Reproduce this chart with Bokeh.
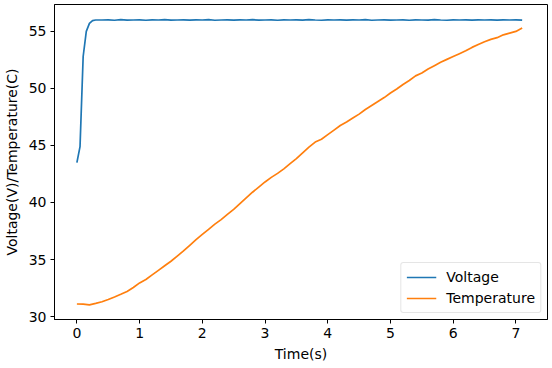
from bokeh.plotting import figure
from bokeh.models import Range1d, FixedTicker, Legend, LegendItem
from bokeh.embed import file_html
from bokeh.resources import INLINE

# ---- data ----
temp_time = [round(0.1 * i, 1) for i in range(72)]
temperature = [
    31.10, 31.08, 31.02, 31.15, 31.30, 31.50, 31.72, 31.95, 32.20, 32.55,
    32.95, 33.25, 33.65, 34.05, 34.45, 34.85, 35.30, 35.75, 36.25, 36.75,
    37.20, 37.65, 38.10, 38.50, 38.95, 39.40, 39.90, 40.40, 40.90, 41.35,
    41.80, 42.20, 42.55, 42.95, 43.40, 43.85, 44.35, 44.85, 45.30, 45.55,
    45.95, 46.35, 46.75, 47.05, 47.40, 47.75, 48.15, 48.50, 48.85, 49.20,
    49.60, 49.95, 50.35, 50.70, 51.10, 51.35, 51.70, 52.00, 52.30, 52.55,
    52.80, 53.05, 53.30, 53.60, 53.85, 54.10, 54.30, 54.45, 54.70, 54.85,
    55.00, 55.30,
]
volt_rise_time = [0.0, 0.05, 0.1, 0.15, 0.2, 0.25, 0.3]
volt_rise = [43.5, 44.9, 52.8, 55.0, 55.7, 55.95, 56.00]
volt_plateau_time = [round(0.1 * i, 1) for i in range(4, 72)]
volt_plateau = [
    56.00, 56.02, 55.98, 56.03, 55.99, 56.00, 56.02, 55.98, 56.01, 56.00,
    56.03, 55.99, 56.00, 56.02, 55.99, 56.01, 56.00, 56.03, 55.98, 56.00,
    56.02, 55.99, 56.01, 56.00, 56.03, 55.99, 56.00, 56.02, 55.98, 56.01,
    56.00, 56.02, 55.99, 56.03, 56.00, 55.98, 56.01, 56.00, 56.02, 55.99,
    56.01, 56.00, 56.03, 55.98, 56.00, 56.02, 55.99, 56.00, 56.01, 55.98,
    56.02, 56.00, 55.99, 56.03, 56.00, 55.98, 56.01, 56.00, 56.02, 55.99,
    56.01, 56.00, 56.02, 55.99, 56.01, 56.00, 56.02, 55.99,
]
volt_time = volt_rise_time + volt_plateau_time
voltage = volt_rise + volt_plateau
x_ticks = [0, 1, 2, 3, 4, 5, 6, 7]
y_ticks = [30, 35, 40, 45, 50, 55]
series_names = ["Voltage", "Temperature"]
colors = ["#1f77b4", "#ff7f0e"]

FONT = "DejaVu Sans"
FS = "14px"

p = figure(width=549, height=364, output_backend="svg", toolbar_location=None,
           x_range=Range1d(-0.357, 7.504), y_range=Range1d(29.74, 57.36),
           min_border_left=51, min_border_right=2, min_border_top=4, min_border_bottom=44)

p.background_fill_color = "white"
p.border_fill_color = "white"
p.outline_line_color = "black"
p.outline_line_width = 1
p.outline_line_alpha = 1
p.grid.visible = False

r1 = p.line(volt_time, voltage, line_color=colors[0], line_width=1.7)
r2 = p.line(temp_time, temperature, line_color=colors[1], line_width=1.7)

for ax, ticks in ((p.xaxis[0], x_ticks), (p.yaxis[0], y_ticks)):
    ax.ticker = FixedTicker(ticks=ticks)
    ax.minor_tick_line_color = None
    ax.major_tick_in = 0
    ax.major_tick_out = 4
    ax.major_tick_line_color = "black"
    ax.axis_line_color = "black"
    ax.major_label_text_font = FONT
    ax.major_label_text_font_size = FS
    ax.major_label_text_color = "black"
    ax.axis_label_text_font = FONT
    ax.axis_label_text_font_size = FS
    ax.axis_label_text_font_style = "normal"
    ax.axis_label_text_color = "black"
    ax.major_label_standoff = 4

p.xaxis.axis_label = "Time(s)"
p.yaxis.axis_label = "Voltage(V)/Temperature(C)"
p.xaxis.axis_label_standoff = 5
p.yaxis.axis_label_standoff = 6

legend = Legend(items=[LegendItem(label=series_names[0], renderers=[r1]),
                       LegendItem(label=series_names[1], renderers=[r2])],
                location="bottom_right")
legend.label_text_font = FONT
legend.label_text_font_size = FS
legend.label_text_color = "black"
legend.glyph_width = 30
legend.glyph_height = 18
legend.label_height = 18
legend.spacing = 3
legend.padding = 5
legend.margin = 6
legend.label_standoff = 10
legend.border_line_color = "#cccccc"
legend.border_radius = 3
legend.background_fill_alpha = 0.8
p.add_layout(legend)

open("out.html", "w").write(file_html(p, INLINE))
